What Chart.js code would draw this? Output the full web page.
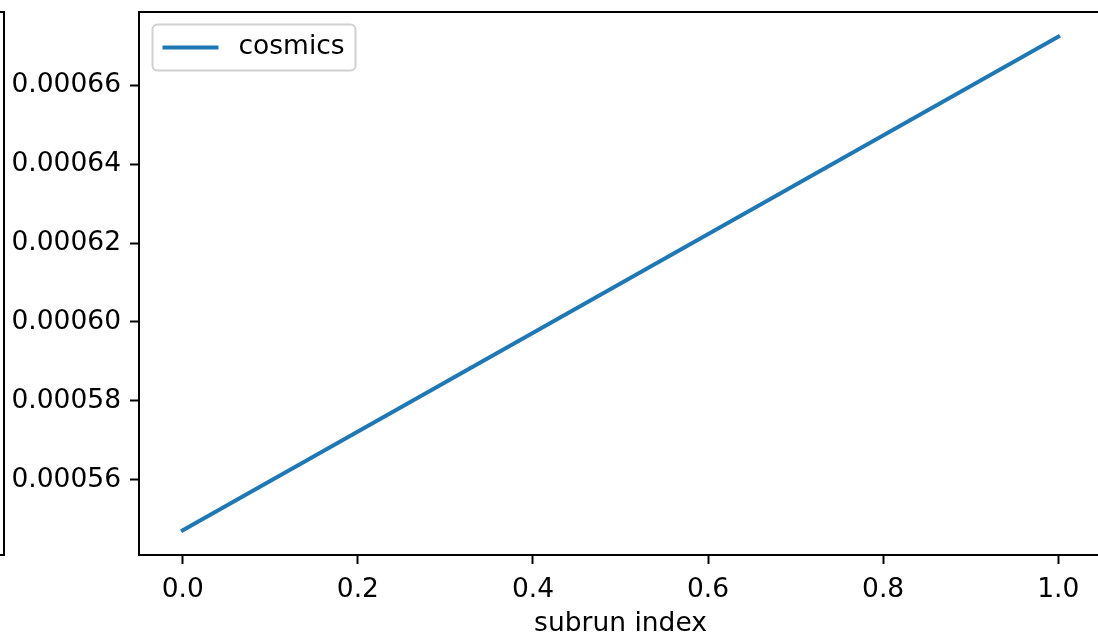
<!DOCTYPE html>
<html>
<head>
<meta charset="utf-8">
<script src="https://cdn.jsdelivr.net/npm/chart.js@4.4.1/dist/chart.umd.min.js"></script>
<style>
  html, body { margin: 0; padding: 0; background: #fff; overflow: hidden; }
  #wrap { width: 1106px; height: 638px; }
</style>
</head>
<body>
<div id="wrap"><canvas id="chart" width="1106" height="638"></canvas></div>
<script>
const seriesName = 'cosmics';
const subrunIndex = [0, 1];
const cosmicsValues = [0.0005472, 0.0006723];
const xTicks = [0.0, 0.2, 0.4, 0.6, 0.8, 1.0];
const yTicks = [0.00056, 0.00058, 0.00060, 0.00062, 0.00064, 0.00066];

const lineColor = '#1f77b4';
const fontFamily = '"DejaVu Sans", sans-serif';
const fontSize = 26.5;

// matplotlib style 5% margins
function padRange(vals) {
  const lo = Math.min(...vals), hi = Math.max(...vals);
  const m = (hi - lo) * 0.05;
  return [lo - m, hi + m];
}
const [xMin, xMax] = padRange(subrunIndex);
const [yMin, yMax] = padRange(cosmicsValues);

const framePlugin = {
  id: 'frame',
  afterDraw(chart) {
    const { ctx, chartArea: a } = chart;
    ctx.save();
    ctx.strokeStyle = '#000';
    ctx.lineWidth = 2;
    ctx.strokeRect(a.left, a.top, a.right - a.left, a.bottom - a.top);

    // edge of the neighbouring subplot, cut off on the left
    ctx.beginPath();
    ctx.moveTo(0, a.top);
    ctx.lineTo(4, a.top);
    ctx.lineTo(4, a.bottom);
    ctx.lineTo(0, a.bottom);
    ctx.stroke();

    // legend box
    const lx = a.left + 13.5, ly = a.top + 12.5, lw = 203, lh = 46;
    ctx.beginPath();
    ctx.roundRect(lx, ly, lw, lh, 5);
    ctx.fillStyle = 'rgba(255,255,255,0.8)';
    ctx.fill();
    ctx.strokeStyle = '#d0d0d0';
    ctx.stroke();

    const ds = chart.data.datasets[0];
    const cy = ly + lh / 2;
    ctx.beginPath();
    ctx.moveTo(lx + 10, cy);
    ctx.lineTo(lx + 66, cy);
    ctx.strokeStyle = ds.borderColor;
    ctx.lineWidth = ds.borderWidth;
    ctx.stroke();

    ctx.fillStyle = '#000';
    ctx.font = fontSize + 'px ' + fontFamily;
    ctx.textBaseline = 'middle';
    ctx.textAlign = 'left';
    ctx.fillText(ds.label, lx + 86, cy);
    ctx.restore();
  }
};

const tickGrid = {
  drawOnChartArea: false,
  drawTicks: true,
  tickLength: 9,
  tickWidth: 2,
  tickColor: '#000'
};

new Chart(document.getElementById('chart'), {
  type: 'line',
  data: {
    datasets: [{
      label: seriesName,
      data: subrunIndex.map((x, i) => ({ x: x, y: cosmicsValues[i] })),
      borderColor: lineColor,
      borderWidth: 3.9,
      borderCapStyle: 'square',
      pointRadius: 0,
      fill: false,
      tension: 0
    }]
  },
  options: {
    responsive: false,
    animation: false,
    layout: { padding: { left: 0, top: 12, right: 4, bottom: 0 } },
    plugins: {
      legend: { display: false },
      tooltip: { enabled: false }
    },
    scales: {
      x: {
        type: 'linear',
        min: xMin,
        max: xMax,
        border: { display: false },
        grid: tickGrid,
        afterBuildTicks: s => { s.ticks = xTicks.map(v => ({ value: v })); },
        afterFit: s => { s.height = 83; s.paddingLeft = 0; s.paddingRight = 0; },
        ticks: {
          color: '#000',
          padding: 10,
          maxRotation: 0,
          font: { family: fontFamily, size: fontSize },
          callback: v => Number(v).toFixed(1)
        },
        title: {
          display: true,
          text: 'subrun index',
          color: '#000',
          padding: { top: 0, bottom: -2 },
          font: { family: fontFamily, size: fontSize }
        }
      },
      y: {
        type: 'linear',
        min: yMin,
        max: yMax,
        border: { display: false },
        grid: tickGrid,
        afterBuildTicks: s => { s.ticks = yTicks.map(v => ({ value: v })); },
        afterFit: s => { s.width = 139; s.paddingTop = 0; s.paddingBottom = 0; },
        ticks: {
          color: '#000',
          padding: 9,
          font: { family: fontFamily, size: fontSize },
          callback: v => Number(v).toFixed(5)
        }
      }
    }
  },
  plugins: [framePlugin]
});
</script>
</body>
</html>
